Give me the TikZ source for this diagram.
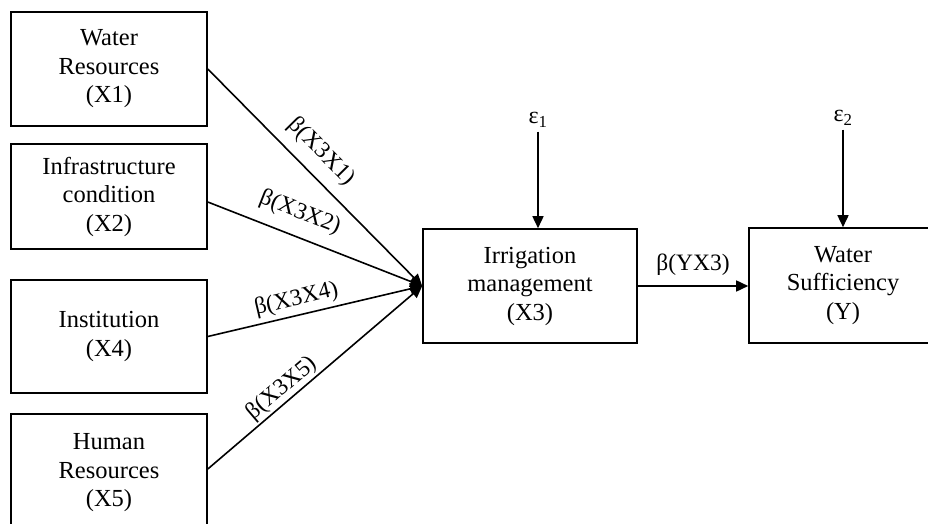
\documentclass[tikz,border=0pt]{standalone}
\usepackage{fontspec}
\setmainfont{Liberation Serif}
\usetikzlibrary{arrows.meta}
\begin{document}
\begin{tikzpicture}[x=1pt,y=-1pt,
  box/.style={draw, line width=1.6pt, inner sep=0pt, align=center,
    font=\fontsize{24.5}{28.5}\selectfont},
  lab/.style={font=\fontsize{23.5}{26}\selectfont, inner sep=0pt},
  eps/.style={font=\fontsize{24}{26}\selectfont, inner sep=0pt},
  arr/.style={line width=1.6pt, -{Triangle[length=12pt,width=11pt]}}]
\useasboundingbox (0,0) rectangle (928,524);
\clip (0,0) rectangle (928,524);
% left boxes
\node[box, minimum width=196pt, minimum height=114pt] (x1) at (109,69) {Water\\Resources\\(X1)};
\node[box, minimum width=196pt, minimum height=105pt] (x2) at (109,196.5) {Infrastructure\\condition\\(X2)};
\node[box, minimum width=196pt, minimum height=113pt] (x4) at (109,336.5) {Institution\\(X4)};
\node[box, minimum width=196pt, minimum height=118pt] (x5) at (109,473) {Human\\Resources\\(X5)};
% middle and right boxes
\node[box, minimum width=214pt, minimum height=114pt] (x3) at (530,286) {Irrigation\\management\\(X3)};
\node[box, minimum width=188pt, minimum height=115pt] (y) at (843,285.5) {Water\\Sufficiency\\(Y)};
% error terms
\node[eps] (e1) at (538,120) {ε\textsubscript{1}};
\node[eps] (e2) at (843,118) {ε\textsubscript{2}};
% arrows
\draw[arr] (x1.east) -- node[lab, pos=0.455, sloped, above=11pt] {β(X3X1)} (x3.west);
\draw[arr] ([yshift=-5.5pt]x2.east) -- node[lab, pos=0.39, sloped, above=12pt] {β(X3X2)} (x3.west);
\draw[arr] (x4.east) -- node[lab, pos=0.43, sloped, above=4pt] {β(X3X4)} (x3.west);
\draw[arr] ([yshift=4pt]x5.east) -- node[lab, pos=0.385, sloped, above=1.5pt] {β(X3X5)} (x3.west);
\draw[arr] (x3.east) -- node[lab, midway, above=10pt] {β(YX3)} (x3.east -| y.west);
\draw[arr] ([yshift=-4pt]e1.south) -- (e1.south |- x3.north);
\draw[arr] ([yshift=-4pt]e2.south) -- (e2.south |- y.north);
\end{tikzpicture}
\end{document}
